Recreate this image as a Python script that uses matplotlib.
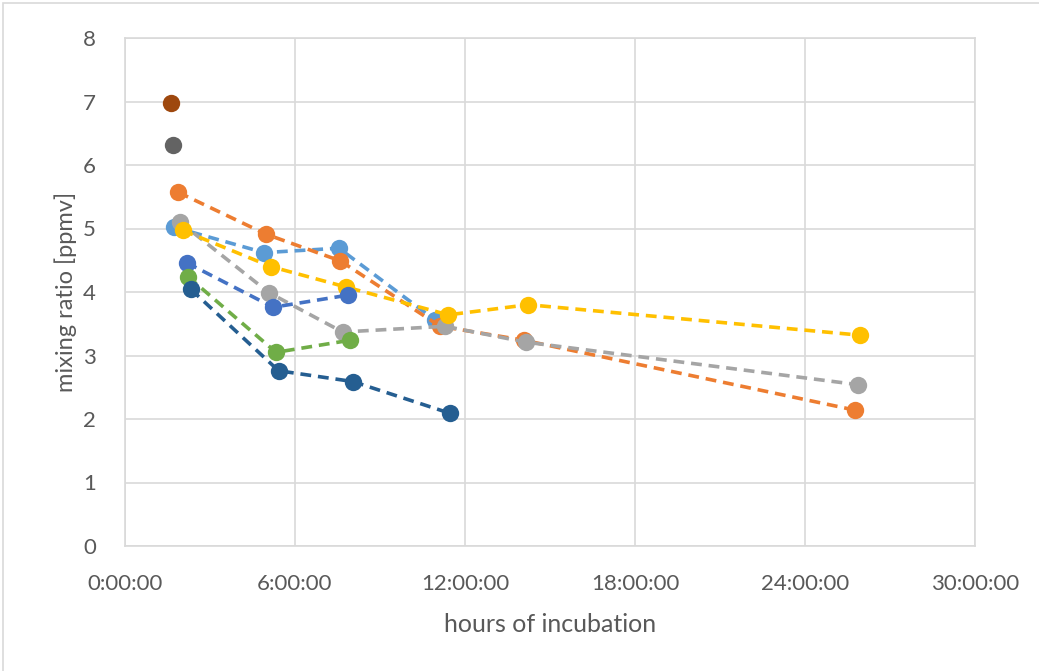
import matplotlib
matplotlib.use("Agg")
import matplotlib.pyplot as plt
from matplotlib.ticker import FuncFormatter, MultipleLocator
from matplotlib.patches import Rectangle

# Incubation time (hours) and mixing ratio (ppmv) per sample series
lightblue_t = [1.74, 4.91, 7.55, 10.94]
lightblue_v = [5.02, 4.62, 4.69, 3.56]

orange_t = [1.88, 4.98, 7.60, 11.12, 14.08, 25.76]
orange_v = [5.57, 4.91, 4.49, 3.46, 3.24, 2.14]

gray_t = [1.94, 5.08, 7.68, 11.29, 14.15, 25.88]
gray_v = [5.10, 3.99, 3.37, 3.46, 3.21, 2.54]

yellow_t = [2.04, 5.15, 7.79, 11.41, 14.23, 25.94]
yellow_v = [4.97, 4.40, 4.08, 3.64, 3.80, 3.32]

blue_t = [2.18, 5.23, 7.86]
blue_v = [4.46, 3.76, 3.95]

green_t = [2.23, 5.33, 7.94]
green_v = [4.24, 3.05, 3.24]

darkblue_t = [2.33, 5.42, 8.04, 11.47]
darkblue_v = [4.04, 2.76, 2.59, 2.09]

brown_t = [1.61]
brown_v = [6.97]

darkgray_t = [1.70]
darkgray_v = [6.31]

series = [
    (lightblue_t, lightblue_v, "#5B9BD5"),
    (orange_t, orange_v, "#ED7D31"),
    (gray_t, gray_v, "#A5A5A5"),
    (yellow_t, yellow_v, "#FFC000"),
    (blue_t, blue_v, "#4472C4"),
    (green_t, green_v, "#70AD47"),
    (darkblue_t, darkblue_v, "#255E91"),
    (brown_t, brown_v, "#9E480E"),
    (darkgray_t, darkgray_v, "#636363"),
]

plt.rcParams["font.family"] = ["Lato", "DejaVu Sans"]

fig = plt.figure(figsize=(10.39, 6.71), dpi=100)
fig.patches.append(Rectangle((3 / 1039, -0.01), 1.02, 1 - 3 / 671 + 0.01,
                             transform=fig.transFigure, fill=False,
                             edgecolor="#D9D9D9", linewidth=1.2))
ax = fig.add_axes([125 / 1039, 1 - 546 / 671, 850 / 1039, 508 / 671])

for i, (t, v, c) in enumerate(series):
    ax.plot(t, v, color=c, linestyle=(0, (3.0, 1.9)), linewidth=2.6,
            marker="o", markersize=12.5, markeredgewidth=0,
            dash_capstyle="butt", zorder=3 + i)

ax.set_xlim(0, 30)
ax.set_ylim(0, 8)
ax.xaxis.set_major_locator(MultipleLocator(6))
ax.yaxis.set_major_locator(MultipleLocator(1))
ax.xaxis.set_major_formatter(FuncFormatter(lambda h, p: f"{int(round(h))}:00:00"))
ax.yaxis.set_major_formatter(FuncFormatter(lambda y, p: f"{int(round(y))}"))

ax.grid(True, color="#D9D9D9", linewidth=1.2)
ax.set_axisbelow(True)
for s in ax.spines.values():
    s.set_color("#D9D9D9")
    s.set_linewidth(1.2)
ax.tick_params(length=0, labelsize=16, labelcolor="#595959")
ax.tick_params(axis="x", pad=20)
ax.tick_params(axis="y", pad=21)

ax.set_xlabel("hours of incubation", fontsize=18, color="#595959", labelpad=14)
ax.set_ylabel("mixing ratio [ppmv]", fontsize=17, color="#595959")
ax.yaxis.set_label_coords(-0.056, 0.5)

fig.savefig("out.png", dpi=100)
